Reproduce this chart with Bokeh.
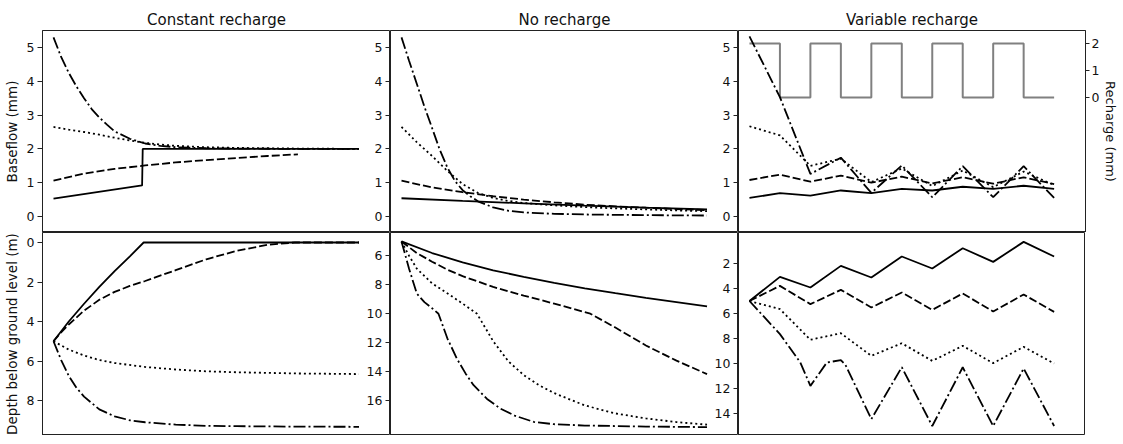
from bokeh.plotting import figure
from bokeh.layouts import row, column
from bokeh.models import Range1d, LinearAxis, FixedTicker
from bokeh.embed import file_html
from bokeh.resources import INLINE

# ---------------- data ----------------
titles = ["Constant recharge", "No recharge", "Variable recharge"]
top_ylabel = "Baseflow (mm)"
bot_ylabel = "Depth below ground level (m)"
rch_label = "Recharge (mm)"

top_ticks = [0, 1, 2, 3, 4, 5]
bot_ticks_cr = [0, 2, 4, 6, 8]
bot_ticks_nr = [6, 8, 10, 12, 14, 16]
bot_ticks_vr = [2, 4, 6, 8, 10, 12, 14]
rch_ticks = [0, 1, 2]

# Constant recharge - baseflow (mm)
cr_bf_solid_t = [0, 2.9, 2.92, 10]
cr_bf_solid = [0.53, 0.92, 2.0, 2.0]
cr_bf_dashed_t = [0, 1, 2, 3, 4, 5, 6, 7, 8]
cr_bf_dashed = [1.06, 1.27, 1.41, 1.51, 1.6, 1.67, 1.73, 1.79, 1.84]
cr_bf_dotted_t = [0, 0.5, 1, 1.5, 2, 2.5, 3, 3.5, 4, 5, 6, 8, 10]
cr_bf_dotted = [2.65, 2.57, 2.5, 2.42, 2.33, 2.25, 2.18, 2.13, 2.09, 2.05, 2.03, 2.01, 2.0]
cr_bf_dashdot_t = [0, 0.25, 0.5, 0.75, 1.0, 1.25, 1.5, 1.75, 2.0, 2.5, 3.0, 3.5, 4, 5, 6, 8, 10]
cr_bf_dashdot = [5.30, 4.72, 4.25, 3.85, 3.5, 3.18, 2.93, 2.72, 2.52, 2.3, 2.16, 2.09, 2.05, 2.02, 2.01, 2.0, 2.0]

# No recharge - baseflow (mm)
nr_bf_solid_t = [0, 2, 4, 6, 8, 10]
nr_bf_solid = [0.54, 0.46, 0.39, 0.32, 0.26, 0.21]
nr_bf_dashed_t = [0, 1, 2, 3, 4, 5, 6, 7, 8, 9, 10]
nr_bf_dashed = [1.06, 0.86, 0.72, 0.6, 0.5, 0.42, 0.35, 0.3, 0.26, 0.22, 0.19]
nr_bf_dotted_t = [0, 0.5, 1, 1.5, 2, 2.5, 3, 3.5, 4, 5, 6, 7, 8, 9, 10]
nr_bf_dotted = [2.65, 2.2, 1.79, 1.35, 0.96, 0.7, 0.55, 0.46, 0.4, 0.33, 0.28, 0.24, 0.21, 0.18, 0.16]
nr_bf_dashdot_t = [0, 0.25, 0.5, 0.75, 1.0, 1.25, 1.5, 1.75, 2.0, 2.25, 2.5, 3.0, 3.5, 4, 5, 6, 7, 8, 10]
nr_bf_dashdot = [5.3, 4.6, 3.93, 3.25, 2.62, 1.98, 1.45, 1.05, 0.78, 0.6, 0.45, 0.27, 0.17, 0.12, 0.08, 0.06, 0.05, 0.04, 0.03]

# Variable recharge - baseflow (mm)
vr_t = [0, 1, 2, 3, 4, 5, 6, 7, 8, 9, 10]
vr_bf_solid = [0.55, 0.69, 0.62, 0.77, 0.69, 0.82, 0.77, 0.88, 0.82, 0.91, 0.82]
vr_bf_dashed = [1.08, 1.24, 1.03, 1.21, 1.0, 1.18, 0.98, 1.16, 0.97, 1.16, 0.96]
vr_bf_dotted = [2.67, 2.4, 1.5, 1.71, 1.02, 1.42, 0.9, 1.36, 0.87, 1.33, 0.93]
vr_bf_dashdot = [5.33, 3.53, 1.26, 1.74, 0.7, 1.51, 0.57, 1.49, 0.57, 1.49, 0.55]
rch_t = [0, 1, 2, 3, 4, 5, 6, 7, 8, 9, 10]
rch = [2, 0, 2, 0, 2, 0, 2, 0, 2, 0, 0]

# Constant recharge - depth (m)
cr_d_solid_t = [0, 0.5, 1, 1.5, 2, 2.5, 2.95, 10]
cr_d_solid = [5.0, 4.0, 3.1, 2.25, 1.45, 0.7, 0.0, 0.0]
cr_d_dashed_t = [0, 0.25, 0.5, 1, 1.5, 2, 2.5, 3, 4, 5, 6, 7, 7.9, 10]
cr_d_dashed = [5.0, 4.55, 4.15, 3.45, 2.9, 2.5, 2.2, 1.95, 1.4, 0.85, 0.42, 0.12, 0.0, 0.0]
cr_d_dotted_t = [0, 0.5, 1, 1.5, 2, 3, 4, 5, 6, 8, 10]
cr_d_dotted = [5.0, 5.42, 5.72, 5.95, 6.1, 6.3, 6.43, 6.52, 6.57, 6.63, 6.66]
cr_d_dashdot_t = [0, 0.25, 0.5, 0.75, 1, 1.5, 2, 2.5, 3, 4, 5, 6, 8, 10]
cr_d_dashdot = [5.0, 5.95, 6.75, 7.35, 7.8, 8.45, 8.8, 9.0, 9.1, 9.22, 9.28, 9.3, 9.32, 9.33]

# No recharge - depth (m)
nr_d_solid_t = [0, 1, 2, 3, 4, 5, 6, 7, 8, 9, 10]
nr_d_solid = [5.0, 5.8, 6.45, 7.0, 7.45, 7.87, 8.25, 8.58, 8.9, 9.2, 9.5]
nr_d_dashed_t = [0, 0.5, 1, 1.5, 2, 3, 4, 5, 6.18, 7, 8, 9, 10]
nr_d_dashed = [5.0, 5.8, 6.4, 6.95, 7.4, 8.15, 8.75, 9.3, 10.0, 10.96, 12.2, 13.25, 14.18]
nr_d_dotted_t = [0, 0.25, 0.5, 1, 1.6, 2, 2.47, 3, 3.5, 4, 4.5, 5, 6, 7, 8, 9, 10]
nr_d_dotted = [5.0, 6.0, 6.88, 7.9, 8.73, 9.3, 10.0, 11.9, 13.3, 14.25, 14.95, 15.5, 16.35, 16.9, 17.25, 17.5, 17.68]
nr_d_dashdot_t = [0, 0.25, 0.5, 0.75, 1.0, 1.21, 1.5, 1.81, 2.1, 2.36, 2.8, 3.23, 3.7, 4.33, 5, 6, 8, 10]
nr_d_dashdot = [5.0, 6.9, 8.6, 9.2, 9.62, 10.0, 11.7, 13.1, 14.15, 14.95, 15.9, 16.56, 17.05, 17.49, 17.65, 17.74, 17.81, 17.85]

# Variable recharge - depth (m)
vr_d_solid = [5.0, 3.07, 3.92, 2.19, 3.12, 1.44, 2.4, 0.78, 1.87, 0.27, 1.44]
vr_d_dashed = [5.0, 3.79, 5.25, 4.11, 5.52, 4.32, 5.71, 4.4, 5.84, 4.48, 5.87]
vr_d_dotted = [5.0, 5.65, 8.1, 7.58, 9.39, 8.38, 9.79, 8.59, 9.97, 8.67, 10.0]
vr_d_dashdot_t = [0, 1, 1.67, 2, 2.54, 3, 3.15, 4, 5, 6, 7, 8, 9, 10]
vr_d_dashdot = [5.0, 7.65, 9.92, 11.79, 9.92, 9.73, 10.1, 14.45, 10.3, 15.0, 10.3, 15.0, 10.4, 15.0]

# ---------------- styling ----------------
FONT = "DejaVu Sans"
INK = "#111111"
FRAME = "#222222"
LW = 1.8
DASHES = {"solid": "solid", "dashed": "8 3", "dotted": "2 3", "dashdot": "12 3 2 3"}

FW = [348, 348, 347]
FH_TOP = 202
FH_BOT = 203
LEFT_B = 40
AXW = 34
TOP_B = 30
X_RANGE = (-0.36, 11.03)

top_yr = (-0.473, 5.503)
bot_yr = [(9.77, -0.506), (18.43, 4.38), (15.76, -0.48)]
rch_yr = (-5.0, 2.48)


def style_axis(ax, label=None):
    ax.axis_line_color = FRAME
    ax.axis_line_width = 1
    ax.major_tick_line_color = FRAME
    ax.major_tick_out = 5
    ax.major_tick_in = 0
    ax.minor_tick_line_color = None
    ax.major_label_text_font = FONT
    ax.major_label_text_font_size = "12.5px"
    ax.major_label_text_color = INK
    ax.major_label_standoff = 3
    if label:
        ax.axis_label = label
        ax.axis_label_text_font = FONT
        ax.axis_label_text_font_size = "13.5px"
        ax.axis_label_text_font_style = "normal"
        ax.axis_label_text_color = INK
        ax.axis_label_standoff = 4


def make_fig(col, top, yr, ticks, ylabel=None):
    kw = dict(
        frame_width=FW[col], frame_height=FH_TOP if top else FH_BOT,
        x_range=Range1d(*X_RANGE), y_range=Range1d(*yr),
        x_axis_location=None, toolbar_location=None, output_backend="svg",
        min_border_left=LEFT_B if col == 0 else AXW,
        min_border_right=0, min_border_top=TOP_B if top else 0, min_border_bottom=0,
        outline_line_color=FRAME, outline_line_width=1,
        background_fill_color="white",
        border_fill_color="white" if col == 0 else None,
    )
    if top:
        kw["title"] = titles[col]
    if col > 0:
        kw["margin"] = (0, 0, 0, -AXW)
    p = figure(**kw)
    p.xgrid.visible = False
    p.ygrid.visible = False
    p.yaxis.ticker = FixedTicker(ticks=ticks)
    style_axis(p.yaxis[0], ylabel)
    if top:
        p.title.align = "center"
        p.title.text_font = FONT
        p.title.text_font_size = "15px"
        p.title.text_font_style = "normal"
        p.title.text_color = INK
        p.title.standoff = 3
    return p


def draw(p, t, v, style):
    p.line(t, v, line_color="black", line_width=LW, line_dash=DASHES[style])


# ---- top row ----
t1 = make_fig(0, True, top_yr, top_ticks, top_ylabel)
draw(t1, cr_bf_solid_t, cr_bf_solid, "solid")
draw(t1, cr_bf_dashed_t, cr_bf_dashed, "dashed")
draw(t1, cr_bf_dotted_t, cr_bf_dotted, "dotted")
draw(t1, cr_bf_dashdot_t, cr_bf_dashdot, "dashdot")

t2 = make_fig(1, True, top_yr, top_ticks)
draw(t2, nr_bf_solid_t, nr_bf_solid, "solid")
draw(t2, nr_bf_dashed_t, nr_bf_dashed, "dashed")
draw(t2, nr_bf_dotted_t, nr_bf_dotted, "dotted")
draw(t2, nr_bf_dashdot_t, nr_bf_dashdot, "dashdot")

t3 = make_fig(2, True, top_yr, top_ticks)
t3.extra_y_ranges = {"rch": Range1d(*rch_yr)}
t3.step(rch_t, rch, mode="after", y_range_name="rch", line_color="#808080", line_width=2)
draw(t3, vr_t, vr_bf_solid, "solid")
draw(t3, vr_t, vr_bf_dashed, "dashed")
draw(t3, vr_t, vr_bf_dotted, "dotted")
draw(t3, vr_t, vr_bf_dashdot, "dashdot")
rax = LinearAxis(y_range_name="rch", ticker=FixedTicker(ticks=rch_ticks))
style_axis(rax, rch_label)
rax.major_tick_out = 4
rax.major_label_standoff = 2
rax.axis_label_standoff = 1
rax.axis_label_text_font_size = "13px"
t3.add_layout(rax, "right")

# ---- bottom row ----
b1 = make_fig(0, False, bot_yr[0], bot_ticks_cr, bot_ylabel)
draw(b1, cr_d_solid_t, cr_d_solid, "solid")
draw(b1, cr_d_dashed_t, cr_d_dashed, "dashed")
draw(b1, cr_d_dotted_t, cr_d_dotted, "dotted")
draw(b1, cr_d_dashdot_t, cr_d_dashdot, "dashdot")

b2 = make_fig(1, False, bot_yr[1], bot_ticks_nr)
draw(b2, nr_d_solid_t, nr_d_solid, "solid")
draw(b2, nr_d_dashed_t, nr_d_dashed, "dashed")
draw(b2, nr_d_dotted_t, nr_d_dotted, "dotted")
draw(b2, nr_d_dashdot_t, nr_d_dashdot, "dashdot")

b3 = make_fig(2, False, bot_yr[2], bot_ticks_vr)
draw(b3, vr_t, vr_d_solid, "solid")
draw(b3, vr_t, vr_d_dashed, "dashed")
draw(b3, vr_t, vr_d_dotted, "dotted")
draw(b3, vr_d_dashdot_t, vr_d_dashdot, "dashdot")

layout = column(row(t1, t2, t3, spacing=0), row(b1, b2, b3, spacing=0), spacing=0)

open("out.html", "w").write(file_html(layout, INLINE))
